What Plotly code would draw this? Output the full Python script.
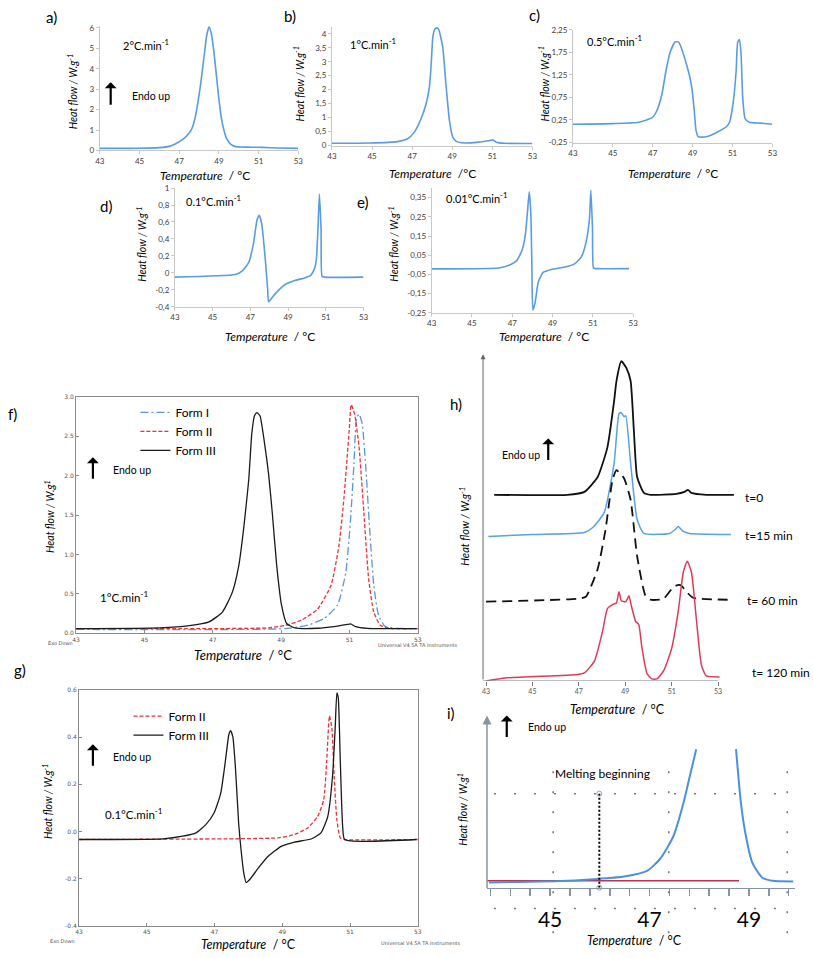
import numpy as np
import plotly.graph_objects as go

W, H = 813, 958
FONT = "Lato"

# ---------------- DATA ----------------
temp_ticks = [43, 45, 47, 49, 51, 53]

a_T = [43.0, 44.0, 45.0, 46.0, 46.5, 46.8, 47.2, 47.5, 47.65, 47.8, 47.95, 48.1, 48.25, 48.38, 48.5,
       48.62, 48.75, 48.88, 49.0, 49.12, 49.25, 49.4, 49.6, 49.8, 50.1, 50.6, 51.2, 52.0, 53.0]
a_hf = [0.10, 0.10, 0.11, 0.14, 0.20, 0.32, 0.55, 0.85, 1.10, 1.6, 2.4, 3.4, 4.6, 5.6, 6.05,
        5.7, 4.8, 3.6, 2.5, 1.6, 1.0, 0.55, 0.30, 0.20, 0.17, 0.16, 0.15, 0.12, 0.10]

b_T = [43.0, 44.9, 46.27, 46.77, 47.1, 47.44, 47.69, 47.86, 47.95, 48.03, 48.12, 48.23, 48.33, 48.42,
       48.53, 48.7, 48.86, 49.03, 49.2, 49.6, 50.3, 50.8, 51.04, 51.2, 51.6, 53.0]
b_hf = [0.08, 0.09, 0.14, 0.24, 0.47, 0.95, 1.48, 2.08, 2.9, 3.86, 4.15, 4.21, 4.15, 3.9,
        3.5, 2.08, 0.9, 0.3, 0.15, 0.09, 0.12, 0.17, 0.2, 0.12, 0.08, 0.07]
b_yticks = [0, 0.5, 1, 1.5, 2, 2.5, 3, 3.5, 4]
b_ytext = ["0", "0,5", "1", "1,5", "2", "2,5", "3", "3,5", "4"]

c_T = [43.0, 44.98, 46.3, 46.97, 47.21, 47.46, 47.66, 47.88, 48.12, 48.29, 48.45, 48.7, 48.87, 48.98,
       49.08, 49.17, 49.28, 49.45, 49.78, 50.27, 50.69, 50.85, 51.02, 51.18, 51.26, 51.35, 51.43,
       51.51, 51.63, 51.84, 52.42, 53.0]
c_hf = [0.155, 0.17, 0.2, 0.3, 0.46, 0.82, 1.33, 1.76, 1.98, 1.98, 1.83, 1.47, 1.18, 0.89,
        0.46, 0.02, -0.12, -0.13, -0.11, -0.01, 0.1, 0.2, 0.6, 1.33, 1.98, 2.03, 1.69,
        0.75, 0.28, 0.2, 0.18, 0.155]
c_yticks = [-0.25, 0.25, 0.75, 1.25, 1.75, 2.25]
c_ytext = ["-0,25", "0,25", "0,75", "1,25", "1,75", "2,25"]

d_T = [43.0, 46.2, 46.56, 46.91, 47.17, 47.35, 47.47, 47.6, 47.78, 47.92, 47.97, 48.3, 48.83,
       49.35, 49.87, 50.2, 50.4, 50.5, 50.58, 50.66, 50.75, 50.8, 50.92, 53.0]
d_hf = [-0.05, -0.02, 0.02, 0.12, 0.35, 0.62, 0.68, 0.58, 0.19, -0.2, -0.34, -0.25, -0.14,
        -0.09, -0.06, -0.03, 0.05, 0.16, 0.5, 0.93, 0.5, -0.04, -0.05, -0.05]
d_yticks = [-0.4, -0.2, 0, 0.2, 0.4, 0.6, 0.8, 1]
d_ytext = ["-0,4", "-0,2", "0", "0,2", "0,4", "0,6", "0,8", "1"]

e_T = [43.0, 46.33, 46.9, 47.23, 47.48, 47.64, 47.75, 47.84, 47.92, 47.97, 48.02, 48.14, 48.29,
       48.53, 48.94, 49.6, 50.09, 50.42, 50.66, 50.83, 50.9, 50.98, 51.03, 51.15, 52.79]
e_hf = [-0.021, -0.017, 0.0, 0.023, 0.074, 0.15, 0.27, 0.38, 0.27, 0.014, -0.236, -0.193, -0.09,
        -0.04, -0.024, -0.012, 0.005, 0.04, 0.117, 0.24, 0.39, 0.19, -0.017, -0.02, -0.02]
e_yticks = [-0.25, -0.15, -0.05, 0.05, 0.15, 0.25, 0.35]
e_ytext = ["-0,25", "-0,15", "-0,05", "0,05", "0,15", "0,25", "0,35"]

f1_T = [43.0, 49.1, 49.78, 50.26, 50.65, 50.89, 51.03, 51.13, 51.21, 51.28, 51.37, 51.47, 51.59,
        51.71, 51.85, 52.05, 53.0]
f1_hf = [0.05, 0.06, 0.104, 0.19, 0.36, 0.77, 1.44, 2.15, 2.74, 2.78, 2.66, 2.15, 1.32,
         0.61, 0.23, 0.085, 0.06]
f2_T = [43.0, 48.63, 49.1, 49.59, 50.07, 50.46, 50.69, 50.84, 50.99, 51.05, 51.15, 51.28, 51.42,
        51.56, 51.71, 51.9, 52.19, 53.0]
f2_hf = [0.06, 0.07, 0.1, 0.167, 0.31, 0.61, 1.11, 1.73, 2.57, 2.9, 2.78, 2.36, 1.53,
         0.69, 0.27, 0.104, 0.063, 0.06]
f3_T = [43.0, 45.45, 46.31, 46.89, 47.28, 47.57, 47.76, 47.9, 48.05, 48.14, 48.22, 48.29, 48.38,
        48.53, 48.63, 48.74, 48.87, 49.01, 49.16, 49.4, 50.07, 50.55, 50.94, 51.03, 51.18, 51.52, 52.96]
f3_hf = [0.06, 0.07, 0.097, 0.146, 0.27, 0.52, 0.86, 1.32, 1.94, 2.53, 2.76, 2.80, 2.76,
         2.36, 2.03, 1.53, 0.86, 0.36, 0.125, 0.07, 0.065, 0.085, 0.113, 0.12, 0.085, 0.063, 0.06]
f_yticks = [0, 0.5, 1, 1.5, 2, 2.5, 3]
f_ytext = ["0.0", "0.5", "1.0", "1.5", "2.0", "2.5", "3.0"]

g2_T = [43.0, 47.62, 48.88, 49.36, 49.75, 50.04, 50.22, 50.31, 50.39, 50.46, 50.53, 50.61, 50.71,
        50.82, 53.0]
g2_hf = [-0.033, -0.03, -0.026, -0.012, 0.016, 0.064, 0.134, 0.30, 0.49, 0.44, 0.232, 0.05,
         -0.026, -0.033, -0.033]
g3_T = [43.0, 45.48, 46.06, 46.45, 46.74, 46.98, 47.18, 47.32, 47.42, 47.47, 47.54, 47.62, 47.71,
        47.79, 47.86, 47.93, 48.05, 48.3, 48.59, 48.98, 49.36, 49.85, 50.14, 50.34, 50.48, 50.56,
        50.61, 50.65, 50.71, 50.78, 50.84, 52.96]
g3_hf = [-0.033, -0.03, -0.019, -0.005, 0.03, 0.078, 0.162, 0.30, 0.41, 0.427, 0.40, 0.26, 0.036,
         -0.089, -0.173, -0.215, -0.2, -0.152, -0.103, -0.061, -0.044, -0.031, -0.005, 0.064,
         0.232, 0.44, 0.587, 0.567, 0.30, 0.023, -0.033, -0.033]
g_yticks = [-0.4, -0.2, 0, 0.2, 0.4, 0.6]
g_ytext = ["-0.4", "-0.2", "0.0", "0.2", "0.4", "0.6"]

# h : stacked thermograms (arbitrary offset units)
h0_T = [43.35, 46.5, 47.24, 47.81, 48.23, 48.52, 48.62, 48.83, 49.05, 49.23, 49.37, 49.51, 49.8,
        50.1, 51.2, 51.55, 51.7, 51.85, 52.5, 53.68]
h0_v = [188, 188, 191, 206, 236, 283, 303, 323, 316, 303, 253, 206, 190, 188, 189, 191, 193, 190,
        188, 188]
h15_T = [43.1, 45.0, 47.24, 47.6, 48.09, 48.52, 48.73, 48.83, 48.95, 49.02, 49.23, 49.51, 49.8,
         50.9, 51.15, 51.28, 51.5, 51.77, 53.55]
h15_v = [146, 148, 150, 155, 170, 220, 270, 271, 267, 268, 220, 163, 149, 149, 153, 156, 151, 149, 148]
h60_T = [43.0, 46.96, 47.3, 47.81, 48.15, 48.45, 48.62, 48.94, 49.23, 49.51, 49.87, 50.09, 50.65,
         51.07, 51.3, 51.43, 51.64, 51.92, 53.41]
h60_v = [80, 83, 85, 113, 153, 203, 213, 205, 183, 126, 86, 82, 83, 95, 97, 96, 90, 84, 82]
h120_T = [43.0, 43.84, 46.96, 47.24, 47.67, 48.02, 48.23, 48.45, 48.62, 48.73, 48.83, 49.02, 49.16,
          49.26, 49.45, 49.58, 49.72, 49.94, 50.15, 50.36, 50.65, 51.0, 51.28, 51.5, 51.67, 51.85,
          52.06, 52.28, 52.49, 53.06]
h120_v = [0, 3, 6.5, 8, 20, 50, 73, 77, 79, 90, 81, 80, 86, 76, 60, 57, 33, 7, 2, 2, 10, 33, 70,
          110, 121, 110, 63, 16, 5, 4]
h_labels = ["t=0", "t=15 min", "t= 60 min", "t= 120 min"]

# i : zoom on melting onset
i_blue_T = [43.77, 45.36, 45.99, 46.49, 46.95, 47.21, 47.48, 47.68, 47.84, 47.94, None,
            48.74, 48.84, 48.94, 49.07, 49.27, 49.47, 49.89]
i_blue_v = [5.3, 7, 9, 11.3, 17, 29, 52, 85, 119, 140, None, 140, 85, 52, 25, 10, 7, 6.3]
i_red_T = [43.73, 48.8]
i_red_v = [7, 7]
i_onset_T = [45.99, 45.99]
i_onset_v = [0, 95]
i_tickvals = [45, 47, 49]
i_ticktext = ["45", "47", "49"]

# ---------------- HELPERS ----------------
def xd(a, b):
    return [a / W, b / W]

def yd(top, bottom):
    return [1 - bottom / H, 1 - top / H]

def P(x, y):
    return x / W, 1 - y / H

fig = go.Figure()
ann = []
shapes = []

def text(t, x, y, size=12, xanchor="center", angle=0, color="black", italic=False, family=FONT):
    px_, py_ = P(x, y)
    ann.append(dict(text=t, x=px_, y=py_, xref="paper", yref="paper", showarrow=False,
                    xanchor=xanchor, yanchor="middle", textangle=angle, borderpad=0,
                    font=dict(family=family, size=size, color=color,
                              style="italic" if italic else "normal")))

def up_arrow(x, y_head, y_tail, color="black", width=2.2):
    px_, py_ = P(x, y_head)
    ann.append(dict(text="", x=px_, y=py_, xref="paper", yref="paper", showarrow=True,
                    ax=0, ay=y_tail - y_head, arrowhead=1, arrowsize=0.9, arrowwidth=width,
                    arrowcolor=color))

def ax_name(n, k):
    return k if n == 1 else f"{k}{n}"

def ref(n, k):
    return k if n == 1 else f"{k}{n}"

excel_tick = dict(family=FONT, size=8, color="#404040")

def excel_axes(n, xpx, ypx, yr, yticks, ytext):
    fig.layout[ax_name(n, "xaxis")] = dict(
        domain=xd(*xpx), range=[43, 53], anchor=ref(n, "y"), showline=True, linecolor="#c8c8c8",
        ticks="outside", ticklen=3, tickcolor="#c8c8c8", tickvals=temp_ticks,
        tickfont=excel_tick, showgrid=False, zeroline=False)
    fig.layout[ax_name(n, "yaxis")] = dict(
        domain=yd(*ypx), range=yr, anchor=ref(n, "x"), showline=True, linecolor="#c8c8c8",
        ticks="outside", ticklen=3, tickcolor="#c8c8c8", tickvals=yticks, ticktext=ytext,
        tickfont=excel_tick, showgrid=False, zeroline=False)

BLUE = "#5a9be3"

def line(n, x, y, color, width=1.6, dash="solid", name=None, legend=None, shape="spline"):
    fig.add_trace(go.Scatter(x=x, y=y, mode="lines", xaxis=ref(n, "x"), yaxis=ref(n, "y"),
                             line=dict(color=color, width=width, dash=dash, shape=shape,
                                       smoothing=0.5),
                             name=name, showlegend=legend is not None,
                             legend=legend if legend else "legend", hoverinfo="skip"))

SMALL = 10.5   # "Endo up", rate labels
YT = 10.5      # y titles of a-e

# ---------------- a ----------------
excel_axes(1, (96, 297), (21, 147), [0, 6.1], [0, 1, 2, 3, 4, 5, 6], [str(v) for v in range(7)])
line(1, a_T, a_hf, BLUE)
text("a)", 47, 12, 15)
text("2°C.min<sup>-1</sup>", 118, 40, 11, "left")
up_arrow(107, 78, 102)
text("Endo up", 128, 92, SMALL, "left")
text("Heat flow / W.g<sup>-1</sup>", 68, 88, YT, angle=-90, italic=True)
text("<i>Temperature</i>  / °C", 202, 172, 12)

# ---------------- b ----------------
excel_axes(2, (331, 534), (22, 142), [0, 4.25], b_yticks, b_ytext)
line(2, b_T, b_hf, BLUE)
text("b)", 289, 11, 15)
text("1°C.min<sup>-1</sup>", 348, 39, 11, "left")
text("Heat flow / W.g<sup>-1</sup>", 297, 80, YT, angle=-90, italic=True)
text("<i>Temperature</i>  /°C", 433, 170, 12)

# ---------------- c ----------------
excel_axes(3, (575, 777), (25, 139), [-0.25, 2.25], c_yticks, c_ytext)
line(3, c_T, c_hf, BLUE)
text("c)", 536, 10, 15)
text("0.5°C.min<sup>-1</sup>", 588, 36, 11, "left")
text("Heat flow / W.g<sup>-1</sup>", 545, 80, YT, angle=-90, italic=True)
text("<i>Temperature</i>  / °C", 676, 170, 12)

# ---------------- d ----------------
excel_axes(4, (172, 363), (185, 305), [-0.4, 1.0], d_yticks, d_ytext)
line(4, d_T, d_hf, BLUE)
text("d)", 102, 203, 15)
text("0.1°C.min<sup>-1</sup>", 182, 198, 11, "left")
text("Heat flow / W.g<sup>-1</sup>", 138, 242, YT, angle=-90, italic=True)
text("<i>Temperature</i>  / °C", 268, 335, 12)

# ---------------- e ----------------
excel_axes(5, (432, 636), (185, 311), [-0.25, 0.4], e_yticks, e_ytext)
line(5, e_T, e_hf, BLUE)
text("e)", 362, 199, 15)
text("0.01°C.min<sup>-1</sup>", 445, 195, 11, "left")
text("Heat flow / W.g<sup>-1</sup>", 393, 242, YT, angle=-90, italic=True)
text("<i>Temperature</i>  / °C", 546, 335, 12)

# ---------------- f ----------------
ta_tick = dict(family="DejaVu Sans", size=6, color="#555555")

def ta_axes(n, xpx, ypx, yr, yticks, ytext):
    fig.layout[ax_name(n, "xaxis")] = dict(
        domain=xd(*xpx), range=[43, 53], anchor=ref(n, "y"), showline=True, mirror=True,
        linecolor="#8a8a8a", ticks="inside", ticklen=3, tickcolor="#8a8a8a",
        tickvals=temp_ticks, tickfont=ta_tick, showgrid=False, zeroline=False)
    fig.layout[ax_name(n, "yaxis")] = dict(
        domain=yd(*ypx), range=yr, anchor=ref(n, "x"), showline=True, mirror=True,
        linecolor="#8a8a8a", ticks="inside", ticklen=3, tickcolor="#8a8a8a",
        tickvals=yticks, ticktext=ytext, tickfont=ta_tick, showgrid=False, zeroline=False)

ta_axes(6, (72, 418), (396, 635), [0, 3], f_yticks, f_ytext)
line(6, f1_T, f1_hf, "#5b95d8", 1.3, "8px,3px,2px,3px", "Form I", "legend")
line(6, f2_T, f2_hf, "#e8323c", 1.3, "4px,2px", "Form II", "legend")
line(6, f3_T, f3_hf, "#1a1a1a", 1.3, "solid", "Form III", "legend")
text("f)", 8, 413, 15)
up_arrow(89, 457, 480)
text("Endo up", 108, 470, SMALL, "left")
text("1°C.min<sup>-1</sup>", 95, 598, 11.5, "left")
text("Heat flow / W.g<sup>1</sup>", 45, 517, 10.5, angle=-90, italic=True)
text("<i>Temperature</i>  / °C", 241, 657, 13)
text("Exo Down", 43, 645, 5, "left", color="#555", family="DejaVu Sans")
text("Universal V4.5A TA Instruments", 377, 647, 5, "left", color="#555", family="DejaVu Sans")

# ---------------- g ----------------
ta_axes(7, (75, 418), (692, 931), [-0.4, 0.6], g_yticks, g_ytext)
line(7, g2_T, g2_hf, "#e8323c", 1.3, "4px,2px", "Form II", "legend2")
line(7, g3_T, g3_hf, "#1a1a1a", 1.3, "solid", "Form III", "legend2")
text("g)", 15, 672, 15)
up_arrow(89, 747, 770)
text("Endo up", 108, 760, SMALL, "left")
text("0.1°C.min<sup>-1</sup>", 100, 817, 11.5, "left")
text("Heat flow / W.g<sup>-1</sup>", 43, 805, 10.5, angle=-90, italic=True)
text("<i>Temperature</i>  / °C", 247, 949, 12.5)
text("Exo Down", 45, 946, 5, "left", color="#555", family="DejaVu Sans")
text("Universal V4.5A TA Instruments", 380, 948, 5, "left", color="#555", family="DejaVu Sans")

# ---------------- h ----------------
h_x0 = 43 - 3 / 23.5
h_x1 = 43 + 253 / 23.5
fig.layout["xaxis8"] = dict(domain=xd(484, 740), range=[h_x0, h_x1], anchor="y8", showline=False,
                            ticks="outside", ticklen=4, tickcolor="#777", tickvals=temp_ticks,
                            tickfont=dict(family=FONT, size=7, color="#555"), showgrid=False,
                            zeroline=False)
fig.layout["yaxis8"] = dict(domain=yd(350, 683), range=[0, 333], anchor="x8", showline=False,
                            showticklabels=False, ticks="", showgrid=False, zeroline=False)
shapes.append(dict(type="line", xref="x8", yref="y8", x0=h_x0, x1=53, y0=0, y1=0,
                   line=dict(color="#777", width=1)))
ann.append(dict(text="", x=h_x0, y=330, xref="x8", yref="y8", ax=h_x0, ay=0, axref="x8",
                ayref="y8", showarrow=True, arrowhead=2, arrowsize=1, arrowwidth=1,
                arrowcolor="#666"))
line(8, h0_T, h0_v, "#111111", 1.8)
line(8, h15_T, h15_v, "#5aa0e6", 1.5)
line(8, h60_T, h60_v, "#111111", 1.8, "10px,6px")
line(8, h120_T, h120_v, "#dc3b58", 1.5)
text("h)", 457, 403, 15)
text("Endo up", 502, 455, SMALL, "left")
up_arrow(550, 438, 461)
text("Heat flow / W.g<sup>-1</sup>", 465, 527, 11, angle=-90, italic=True)
text("<i>Temperature</i>  / °C", 620, 712, 12.5)
for lab, xx, yy in zip(h_labels, [748, 748, 750, 755], [498, 536, 602, 675]):
    text(lab, xx, yy, 12, "left")

# ---------------- i ----------------
fig.layout["xaxis9"] = dict(domain=xd(488, 800), range=[43.73, 49.93], anchor="y9",
                            showline=True, linecolor="#8595a5", linewidth=1.5,
                            ticks="outside", ticklen=7, tickcolor="#8595a5", tickwidth=1.5,
                            tickvals=i_tickvals, ticktext=i_ticktext, ticklabelstandoff=6,
                            minor=dict(tickvals=list(np.round(np.arange(43.8, 49.95, 0.4), 2)),
                                       ticks="outside", ticklen=7, tickcolor="#8595a5",
                                       tickwidth=1.5),
                            tickfont=dict(family=FONT, size=21, color="black"),
                            showgrid=False, zeroline=False)
fig.layout["yaxis9"] = dict(domain=yd(718, 892), range=[0, 174], anchor="x9", showline=False,
                            showticklabels=False, ticks="", showgrid=False, zeroline=False)
grid_style = dict(color="#777", width=1.6, dash="2px,18px")
for gx in [555, 672, 792]:
    shapes.append(dict(type="line", xref="paper", yref="paper", x0=gx / W, x1=gx / W,
                       y0=1 - 938 / H, y1=1 - 760 / H, line=grid_style))
for gy in [797, 913]:
    shapes.append(dict(type="line", xref="paper", yref="paper", x0=495 / W, x1=793 / W,
                       y0=1 - gy / H, y1=1 - gy / H, line=grid_style))
ann.append(dict(text="", x=488 / W, y=1 - 718 / H, xref="paper", yref="paper",
                ax=0, ay=174, showarrow=True, arrowhead=2, arrowsize=1.2, arrowwidth=1.5,
                arrowcolor="#8595a5"))
line(9, i_red_T, i_red_v, "#c0304a", 1.6, shape="linear")
fig.add_trace(go.Scatter(x=i_blue_T, y=i_blue_v, mode="lines", xaxis="x9", yaxis="y9",
                         line=dict(color="#4a90e2", width=2, shape="spline", smoothing=0.6),
                         connectgaps=False, showlegend=False, hoverinfo="skip"))
fig.add_trace(go.Scatter(x=i_onset_T, y=i_onset_v, mode="lines+markers", xaxis="x9", yaxis="y9",
                         line=dict(color="black", width=2, dash="2px,2px"),
                         marker=dict(symbol="circle-open", size=5, color="#8aa4c0"),
                         showlegend=False, hoverinfo="skip", cliponaxis=False))
text("i)", 452, 715, 15)
up_arrow(508, 718, 741)
text("Endo up", 528, 730, SMALL, "left")
text("Melting beginning", 556, 777, 12, "left")
text("Heat flow / W.g<sup>1</sup>", 463, 813, 10.5, angle=-90, italic=True)
text("<i>Temperature</i>  / °C", 637, 945, 12.5)

# ---------------- LAYOUT ----------------
fig.update_layout(
    width=W, height=H, margin=dict(l=0, r=0, t=0, b=0),
    paper_bgcolor="white", plot_bgcolor="rgba(0,0,0,0)",
    font=dict(family=FONT, color="black"),
    annotations=ann, shapes=shapes, showlegend=True, hovermode=False,
    legend=dict(x=132 / W, y=1 - 397 / H, xanchor="left", yanchor="top",
                bgcolor="rgba(0,0,0,0)", font=dict(family=FONT, size=12), tracegroupgap=0),
    legend2=dict(x=125 / W, y=1 - 704 / H, xanchor="left", yanchor="top",
                 bgcolor="rgba(0,0,0,0)", font=dict(family=FONT, size=12), tracegroupgap=0),
)

fig.write_html("out.html",
               config={"displayModeBar": False, "staticPlot": True},
               post_script="document.body.style.margin='0px';"
                           "document.body.style.padding='0px';"
                           "document.documentElement.style.overflow='hidden';")
